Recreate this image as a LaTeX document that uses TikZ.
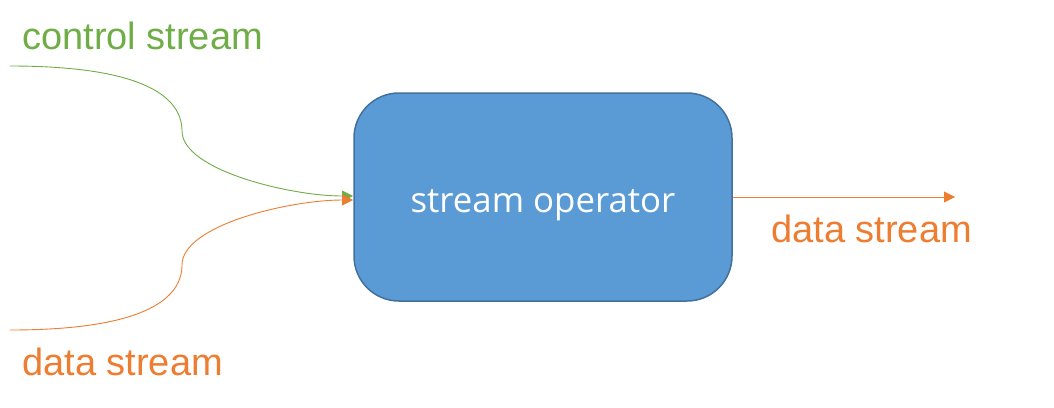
\documentclass[tikz,border=0pt]{standalone}
\usepackage{fontspec}
\setmainfont{Liberation Sans}
\newfontfamily\opfont{Open Sans}
\usetikzlibrary{arrows.meta}
\definecolor{cgreen}{HTML}{70AD47}
\definecolor{corange}{HTML}{ED7D31}
\definecolor{cblue}{HTML}{5B9BD5}
\definecolor{cborder}{HTML}{41719C}
\begin{document}
\begin{tikzpicture}[x=1pt,y=-1pt,
  lbl/.style={font=\fontsize{38}{40}\selectfont, inner sep=0pt},
  flow/.style={line width=0.9pt, -{Triangle[length=11pt,width=11pt]}},
  opbox/.style={draw=cborder, fill=cblue, line width=1.5pt, rounded corners=45pt,
    minimum width=378pt, minimum height=208pt, inner sep=0pt,
    text=white, font=\opfont\fontsize{34.8}{36}\selectfont}]
\useasboundingbox (0,0) rectangle (1054,407);
\node[opbox] (op) at (543,197) {\raisebox{-15pt}[0pt][0pt]{stream operator}};
\coordinate (gs) at (10,66);
\coordinate (gm) at (182,131);
\coordinate (ge) at (353,196);
\coordinate (os) at (10,330);
\coordinate (om) at (182,265);
\coordinate (oe) at (353,200);
\coordinate (re) at (955,197);
\draw[flow, cgreen] (gs) .. controls (150,66) and (182,100) .. (gm)
  .. controls (182,170) and (290,196) .. (ge);
\draw[flow, corange] (os) .. controls (150,330) and (182,296) .. (om)
  .. controls (182,225) and (290,200) .. (oe);
\draw[flow, corange] (op.east) -- (re);
\node[lbl, text=cgreen, anchor=west] (ctl) at (22,36) {control stream};
\node[lbl, text=corange, anchor=west] (dl) at (22,362) {data stream};
\node[lbl, text=corange, anchor=west] (dr) at (771,229) {data stream};
\end{tikzpicture}
\end{document}
